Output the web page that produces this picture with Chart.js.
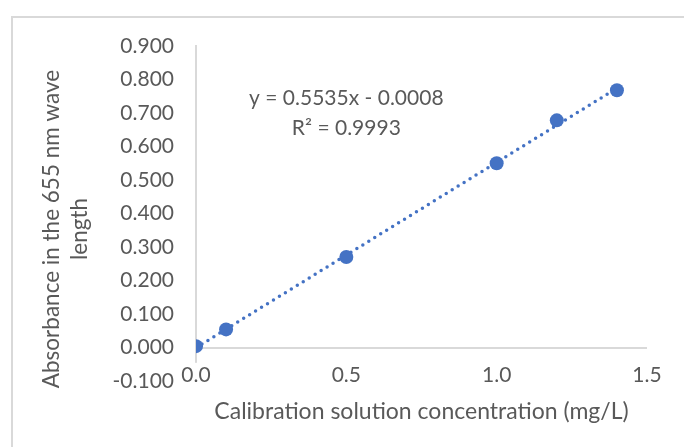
<!DOCTYPE html>
<html>
<head>
<meta charset="utf-8">
<script src="https://cdn.jsdelivr.net/npm/chart.js@4"></script>
<style>
    html, body { margin: 0; padding: 0; background: #fff; overflow: hidden; }
    #frame {
        position: absolute; left: 11px; top: 16px; width: 720px; height: 480px;
        border-left: 2px solid #d9d9d9; border-top: 2px solid #d9d9d9;
    }
    #chart { position: absolute; left: 0; top: 0; }
</style>
</head>
<body>
<div id="frame"></div>
<canvas id="chart" width="684" height="447"></canvas>
<script>
// calibration data
const concentrations = [0, 0.1, 0.5, 1.0, 1.2, 1.4];
const absorbances = [0.004, 0.054, 0.270, 0.550, 0.678, 0.768];

// trendline as printed on the chart
const trendSlope = 0.5535;
const trendIntercept = -0.0008;
const trendLabels = ['y = 0.5535x - 0.0008', 'R² = 0.9993'];

const xTicks = [0, 0.5, 1.0, 1.5];
const yTicks = [-0.1, 0, 0.1, 0.2, 0.3, 0.4, 0.5, 0.6, 0.7, 0.8, 0.9];
const yTitle = ['Absorbance in the 655 nm wave', 'length'];

const textColor = '#595959';
const axisColor = '#d9d9d9';
const pointColor = '#4472C4';
const fontFamily = 'Lato, "Open Sans", sans-serif';

const points = concentrations.map((c, i) => ({ x: c, y: absorbances[i] }));
const xFirst = concentrations[0];
const xLast = concentrations[concentrations.length - 1];
const trendPoints = [
    { x: xFirst, y: trendSlope * xFirst + trendIntercept },
    { x: xLast, y: trendSlope * xLast + trendIntercept }
];

// equation text + the two-line y title (Excel puts it a bit below centre)
const textPlugin = {
    id: 'texts',
    afterDraw(chart) {
        const { ctx, scales } = chart;
        const cx = scales.x.getPixelForValue(0.5);
        ctx.save();
        ctx.fillStyle = textColor;
        ctx.font = '21px ' + fontFamily;
        ctx.textAlign = 'center';
        ctx.textBaseline = 'middle';
        ctx.fillText(trendLabels[0], cx, scales.y.getPixelForValue(0.745));
        ctx.fillText(trendLabels[1], cx, scales.y.getPixelForValue(0.655));

        ctx.font = '22.5px ' + fontFamily;
        ctx.translate(52, 229);
        ctx.rotate(-Math.PI / 2);
        yTitle.forEach((line, i) => ctx.fillText(line, 0, i * 28));
        ctx.restore();
    }
};

new Chart(document.getElementById('chart'), {
    type: 'scatter',
    data: {
        datasets: [
            {
                data: points,
                backgroundColor: pointColor,
                borderWidth: 0,
                pointRadius: 7,
                order: 0
            },
            {
                type: 'line',
                data: trendPoints,
                borderColor: pointColor,
                borderWidth: 3.5,
                borderDash: [0, 7],
                borderCapStyle: 'round',
                pointRadius: 0,
                fill: false,
                order: 1
            }
        ]
    },
    options: {
        responsive: false,
        devicePixelRatio: 1,
        animation: false,
        layout: { padding: { left: 0, top: 46, right: 37, bottom: 0 } },
        plugins: { legend: { display: false }, tooltip: { enabled: false } },
        scales: {
            x: {
                type: 'linear',
                min: 0,
                max: 1.5,
                afterBuildTicks: s => { s.ticks = xTicks.map(v => ({ value: v })); },
                afterFit: s => { s.height = 66; },
                grid: { display: false, drawTicks: false },
                border: { display: false },
                ticks: {
                    mirror: true,
                    padding: -7,
                    color: textColor,
                    font: { family: fontFamily, size: 21 },
                    maxRotation: 0,
                    showLabelBackdrop: true,
                    backdropColor: '#ffffff',
                    backdropPadding: 0,
                    callback: v => v.toFixed(1)
                },
                title: {
                    display: true,
                    text: 'Calibration solution concentration (mg/L)',
                    color: textColor,
                    font: { family: fontFamily, size: 23 },
                    padding: { top: 0, bottom: 22 }
                }
            },
            y: {
                min: -0.1,
                max: 0.9,
                afterBuildTicks: s => { s.ticks = yTicks.map(v => ({ value: v })); },
                afterFit: s => { s.width = 196; },
                grid: {
                    drawTicks: false,
                    lineWidth: 2,
                    color: c => (c.tick && Math.abs(c.tick.value) < 1e-9) ? axisColor : 'rgba(0,0,0,0)'
                },
                // draw the axis line under the x labels so "0.0" sits on top of it
                border: { display: true, color: axisColor, width: 2, z: -1 },
                ticks: {
                    padding: 22,
                    color: textColor,
                    font: { family: fontFamily, size: 21 },
                    callback: v => v.toFixed(3)
                }
            }
        }
    },
    plugins: [textPlugin]
});
</script>
</body>
</html>
